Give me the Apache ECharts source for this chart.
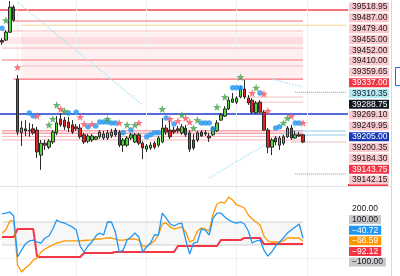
<!DOCTYPE html>
<html><head><meta charset="utf-8">
<script src="https://cdn.jsdelivr.net/npm/echarts@6/dist/echarts.min.js"></script>
<style>html,body{margin:0;padding:0;background:#fff}#c{width:400px;height:276px}</style>
</head><body><div id="c"></div>
<script>
// ---------- DATA ----------
const slots = Array.from({length: 89}, (_, i) => 'b' + i); // bar slots (78 candles + empty right margin)
// [open, close, low, high]
const candles = [
[39441,39437,39430,39447],[39442,39462,39440,39467],[39462,39525,39460,39540],[39525,39492,39488,39530],
[39344,39211,39203,39354],[39209,39221,39176,39239],[39219,39214,39201,39241],[39216,39214,39199,39234],
[39219,39209,39204,39231],[39216,39161,39146,39224],[39153,39183,39116,39191],[39183,39178,39166,39191],
[39173,39188,39168,39193],[39186,39211,39181,39216],[39209,39234,39203,39251],[39244,39229,39224,39259],
[39241,39224,39216,39249],[39236,39221,39211,39249],[39229,39211,39206,39241],[39224,39219,39214,39231],
[39221,39199,39194,39231],[39204,39186,39181,39209],[39188,39201,39183,39206],[39191,39201,39186,39206],
[39193,39199,39191,39201],[39199,39211,39194,39216],[39196,39206,39191,39214],[39196,39209,39191,39216],
[39201,39211,39196,39219],[39216,39204,39199,39221],[39211,39178,39173,39216],[39178,39191,39161,39196],
[39178,39196,39173,39201],[39196,39204,39191,39209],[39186,39204,39183,39209],[39204,39183,39178,39209],
[39183,39171,39143,39188],[39168,39176,39161,39181],[39171,39178,39166,39186],[39183,39173,39168,39188],
[39178,39196,39173,39201],[39186,39221,39183,39246],[39221,39211,39204,39229],[39216,39199,39194,39241],
[39216,39211,39206,39224],[39219,39214,39209,39226],[39209,39224,39204,39231],[39221,39204,39199,39229],
[39209,39168,39161,39216],[39191,39171,39166,39206],[39191,39209,39186,39214],[39211,39201,39199,39216],
[39209,39206,39201,39216],[39201,39196,39186,39209],[39204,39221,39201,39226],[39214,39234,39211,39241],
[39241,39254,39239,39259],[39251,39269,39249,39276],[39269,39291,39266,39299],[39286,39294,39284,39309],
[39286,39296,39281,39301],[39299,39319,39296,39327],[39319,39299,39294,39342],[39296,39284,39279,39304],
[39291,39261,39256,39296],[39259,39284,39256,39289],[39286,39261,39259,39291],[39261,39216,39214,39266],
[39216,39173,39158,39221],[39173,39191,39153,39196],[39196,39186,39178,39201],[39178,39196,39166,39201],
[39183,39199,39178,39204],[39199,39221,39196,39226],[39221,39196,39191,39229],[39196,39204,39194,39214],
[39204,39201,39199,39211],[39204,39186,39183,39206]
];
const blueDots = [[0,39472],[7,39259],[8,39251],[17,39259],[19,39261],[22,39224],[24,39226],[25,39236],[26,39236],[27,39236],[28,39234],[29,39234],[31,39209],[33,39216],[37,39199],[38,39204],[39,39209],[40,39209],[42,39246],[44,39231],[51,39234],[52,39234],[53,39234],[54,39219],[59,39322],[60,39322],[61,39322],[66,39309],[70,39221],[71,39224],[75,39234],[76,39234]];
const redStars = [[4,39374],[9,39251],[15,39269],[20,39249],[21,39231],[23,39231],[30,39234],[35,39234],[43,39244],[45,39239],[47,39246],[48,39236],[64,39309],[67,39307],[68,39264],[74,39251],[77,39234]];
const greenStars = [[1,39492],[12,39229],[13,39244],[14,39279],[16,39264],[27,39244],[32,39229],[34,39229],[41,39269],[46,39254],[49,39221],[50,39241],[55,39274],[57,39299],[61,39349],[65,39322],[72,39234],[73,39246]];

const priceLabels = ['39518.95','39487.00','39479.40','39455.00','39452.00','39410.00','39359.65','39337.00','39310.35','39288.75','39269.10','39249.95','39205.00','39200.35','39184.30','39143.75','39142.15'];
const indLabels = ['200.00','100.00','\u221240.72','\u221266.59','\u221292.12','\u2212100.00'];

const indBlue = [170,178,187,152,-204,-144,-91,-65,-57,-74,-83,-39,-22,39,117,100,91,74,57,30,-109,-161,-109,-74,-22,4,-13,100,100,13,-161,-144,-57,-30,4,-30,-161,-117,-83,-13,-13,178,135,83,65,83,91,-57,-178,-83,-74,39,30,-13,135,178,178,144,117,100,91,100,83,22,-83,-65,-57,-144,-196,-161,-109,-74,-39,4,30,57,83,-40.72];
const indOrange = [4,30,109,109,-274,-335,-300,-274,-231,-213,-161,-135,-117,-100,-83,-74,-65,-65,-65,-65,-65,-61,-57,-57,-48,-48,-44,-39,-39,-48,-57,-57,-52,-48,-48,-57,-109,-109,-91,-65,-13,83,91,57,39,48,57,13,-74,-57,22,48,39,22,170,257,274,265,318,291,248,239,222,161,126,100,74,-22,-65,-74,-74,-74,-65,-39,-39,-39,-39,-66.59];
const indRed = [-30,-30,-30,-30,39,39,39,39,39,-204,-204,-204,-204,-204,-204,-204,-204,-204,-204,-204,-204,-170,-170,-170,-170,-170,-170,-170,-170,-161,-161,-161,-161,-161,-161,-161,-161,-161,-161,-161,-161,-161,-161,-161,-161,-109,-109,-109,-109,-109,-109,-109,-109,-109,-109,-109,-57,-57,-57,-57,-57,-57,-39,-39,-39,-39,-39,-92.12,-92.12,-92.12,-92.12,-92.12,-92.12,-92.12,-92.12,-92.12,-92.12,-92.12];

// horizontal levels (prices)
const lvTopRed = 39518.95, lvBlue = 39256.3;
const lvUpperRed = [39490, 39392, 39344];
const lvUpperPink = [39465, 39422, 39377];
const lvUpperBand = [39450, 39432];
const lvZone = [39462, 39342];
const lvOrangeDotted = 39479.4;
const lvGrayDotted = [39311, 39105.5];
const lvMidPink = [39299, 39286];
const lvLower = [39214, 39208, 39200, 39191];
const lvLightBlue = [39213.6, 39203.5];
const lvRedDotted = 39186;
const diagonals = [[[4,39537],[36,39279]],[[53,39095.5],[77,39236]],[[69,39344],[77,39324]]];
const vGrid = [4, 19, 37, 60, 78];
const indBand = [100, -100];
const indGridLine = -213;

// ---------- STYLE / LAYOUT ----------
const FONT = 'Liberation Sans, Arial, sans-serif';
const priceLabelKinds = ['p','p','p','p','p','p','p','r','c','k','p','p','b','p','p','r','p'];
const indLabelKinds = ['n','g','bl','o','rd','g'];
function tok(bg, fg, w) {
  const o = {color: fg, fontSize: 8.5, fontFamily: FONT, lineHeight: 10, padding: [0, 3]};
  if (bg) o.backgroundColor = bg;
  if (w) o.width = w;
  return o;
}
const richMain = {p: tok('#fbc9cc','#131722',34), r: tok('#f23645','#fff',34), c: tok('#b2ebf2','#131722',34), k: tok('#131722','#fff',34), b: tok('#1a3ab8','#fff',34)};
const richInd = {n: tok(null,'#131722'), g: tok('#c8c8c8','#131722'), bl: tok('#2196f3','#fff'), o: tok('#ff9800','#fff'), rd: tok('#f23645','#fff')};

const last = candles.length - 1, edge = slots.length - 1;
const levelSeries = [];
function seg(y, a, b, color, width, type, xi, yi) {
  levelSeries.push({type: 'line', xAxisIndex: xi || 0, yAxisIndex: yi || 0, data: [[a, y], [b, y]],
    symbol: 'none', silent: true, z: 1, lineStyle: {color, width, type: type || 'solid'}});
}
function zone(top, bottom, a, b, color) {
  levelSeries.push({type: 'line', xAxisIndex: 0, yAxisIndex: 0, data: [[a, top], [b, top]],
    symbol: 'none', silent: true, z: 0, lineStyle: {width: 0, opacity: 0},
    areaStyle: {color, origin: bottom, opacity: 1}});
}
zone(lvZone[0], lvZone[1], 5, last, 'rgba(248,160,168,0.16)');
zone(lvUpperBand[0], lvUpperBand[1], 0, last, 'rgba(246,140,150,0.2)');
lvUpperRed.forEach((v, k) => seg(v, k === 1 ? 0 : 3, last, '#f4737a', 1.2));
lvUpperPink.forEach((v, k) => seg(v, k === 2 ? 5 : 0, last, '#f8b7bb', 1));
seg(lvOrangeDotted, 5, edge, '#f5a623', 1, 'dotted');
lvGrayDotted.forEach(v => seg(v, 75, edge, '#8a8e99', 1, 'dotted'));
lvMidPink.forEach(v => seg(v, 62, last, '#f8c0c3', 1));
lvLower.forEach((v, k) => seg(v, 0, last, k < 2 ? '#f07c84' : '#f7b3b7', 1));
lvLightBlue.forEach(v => seg(v, 74, edge, '#8fcdf0', 1));
seg(lvRedDotted, 74, edge, '#f06a72', 1, 'dotted');
diagonals.forEach(d => levelSeries.push({type: 'line', xAxisIndex: 0, yAxisIndex: 0, data: d, symbol: 'none', silent: true, z: 1,
  lineStyle: {color: '#b5e5f2', width: 1.5, type: 'dotted'}}));
indBand.forEach(v => seg(v, 0, last, '#cfcfcf', 1.2, 'solid', 1, 2));
levelSeries.push({type: 'line', xAxisIndex: 1, yAxisIndex: 2, data: [[0, indBand[0]], [last, indBand[0]]],
  symbol: 'none', silent: true, z: 0, lineStyle: {width: 0, opacity: 0}, areaStyle: {color: 'rgba(200,200,200,0.15)', origin: indBand[1], opacity: 1}});

const mainLines = [
  {yAxis: lvTopRed, lineStyle: {color: '#f0444f', width: 1.5, type: 'solid'}},
  {yAxis: lvBlue, lineStyle: {color: '#1c3bcc', width: 1.5, type: 'solid'}}
];
vGrid.forEach(x => mainLines.push({xAxis: x, lineStyle: {color: '#eef0f4', width: 1, type: 'solid'}}));
const indLines = [{yAxis: indGridLine, lineStyle: {color: '#eef0f4', width: 1, type: 'solid'}}];
vGrid.forEach(x => indLines.push({xAxis: x, lineStyle: {color: '#eef0f4', width: 1, type: 'solid'}}));

const starPath = 'path://M0,-10L2.35,-3.24L9.51,-3.09L3.8,1.24L5.88,8.09L0,4L-5.88,8.09L-3.8,1.24L-9.51,-3.09L-2.35,-3.24Z';
const markCommon = {silent: true, symbol: ['none','none'], label: {show: false}, animation: false, emphasis: {disabled: true}};

const chart = echarts.init(document.getElementById('c'), null, {renderer: 'canvas'});
chart.setOption({
  animation: false,
  backgroundColor: '#ffffff',
  grid: [
    {left: 0, right: 52, top: 1.6, height: 183.8},
    {left: 0, right: 52, top: 187, height: 89},
    {left: 0, right: 52, top: 203.7, height: 63.6}
  ],
  xAxis: [
    {type: 'category', gridIndex: 0, data: slots, show: false, boundaryGap: true},
    {type: 'category', gridIndex: 1, data: slots, show: false, boundaryGap: true},
    {type: 'value', gridIndex: 2, show: false}
  ],
  yAxis: [
    {type: 'value', gridIndex: 0, min: 39076.9, max: 39538.8, show: false, scale: true},
    {type: 'category', gridIndex: 0, data: priceLabels, inverse: true, position: 'right',
      axisLine: {show: false}, axisTick: {show: false}, splitLine: {show: false},
      axisLabel: {interval: 0, margin: 1, align: 'left', formatter: (v, i) => '{' + priceLabelKinds[i] + '|' + v + '}', rich: richMain}},
    {type: 'value', gridIndex: 1, min: -369.75, max: 404.55, show: false},
    {type: 'category', gridIndex: 2, data: indLabels, inverse: true, position: 'right',
      axisLine: {show: false}, axisTick: {show: false}, splitLine: {show: false},
      axisLabel: {interval: 0, margin: 1, align: 'left', formatter: (v, i) => '{' + indLabelKinds[i] + '|' + v + '}', rich: richInd}}
  ],
  series: levelSeries.concat([
    {type: 'candlestick', xAxisIndex: 0, yAxisIndex: 0, data: candles, barWidth: 3, z: 3,
      itemStyle: {color: '#52d83a', color0: '#e8211f', borderColor: '#2a2a2a', borderColor0: '#2a2a2a', borderWidth: 1},
      markLine: Object.assign({z: 1, data: mainLines}, markCommon)},
    {type: 'scatter', xAxisIndex: 0, yAxisIndex: 0, data: blueDots, symbol: 'circle', symbolSize: 5.5, z: 4, itemStyle: {color: '#2196f3'}, silent: true},
    {type: 'scatter', xAxisIndex: 0, yAxisIndex: 0, data: redStars, symbol: starPath, symbolSize: 8, z: 4, itemStyle: {color: '#f7525f'}, silent: true},
    {type: 'scatter', xAxisIndex: 0, yAxisIndex: 0, data: greenStars, symbol: starPath, symbolSize: 8, z: 4, itemStyle: {color: '#43a047'}, silent: true},
    {type: 'line', xAxisIndex: 1, yAxisIndex: 2, data: indRed, showSymbol: false, z: 3, lineStyle: {color: '#f23645', width: 2}, silent: true,
      markLine: Object.assign({z: 1, data: indLines}, markCommon)},
    {type: 'line', xAxisIndex: 1, yAxisIndex: 2, data: indOrange, showSymbol: false, z: 4, lineStyle: {color: '#ff9800', width: 1.3}, silent: true},
    {type: 'line', xAxisIndex: 1, yAxisIndex: 2, data: indBlue, showSymbol: false, z: 5, lineStyle: {color: '#2196f3', width: 1.3}, silent: true}
  ]),
  graphic: [
    {type: 'line', shape: {x1: 0, y1: 186.5, x2: 391, y2: 186.5}, style: {stroke: '#e0e3eb', lineWidth: 1}, silent: true},
    {type: 'line', shape: {x1: 391.5, y1: 0, x2: 391.5, y2: 276}, style: {stroke: '#d6d9e0', lineWidth: 1}, silent: true},
    {type: 'rect', shape: {x: 395.5, y: 67.5, width: 12, height: 18}, style: {fill: '#fff', stroke: '#2962ff', lineWidth: 1}, silent: true},
    {type: 'rect', shape: {x: 348, y: 184, width: 40, height: 2}, style: {fill: '#f23645'}, silent: true}
  ]
});
</script>
</body></html>
